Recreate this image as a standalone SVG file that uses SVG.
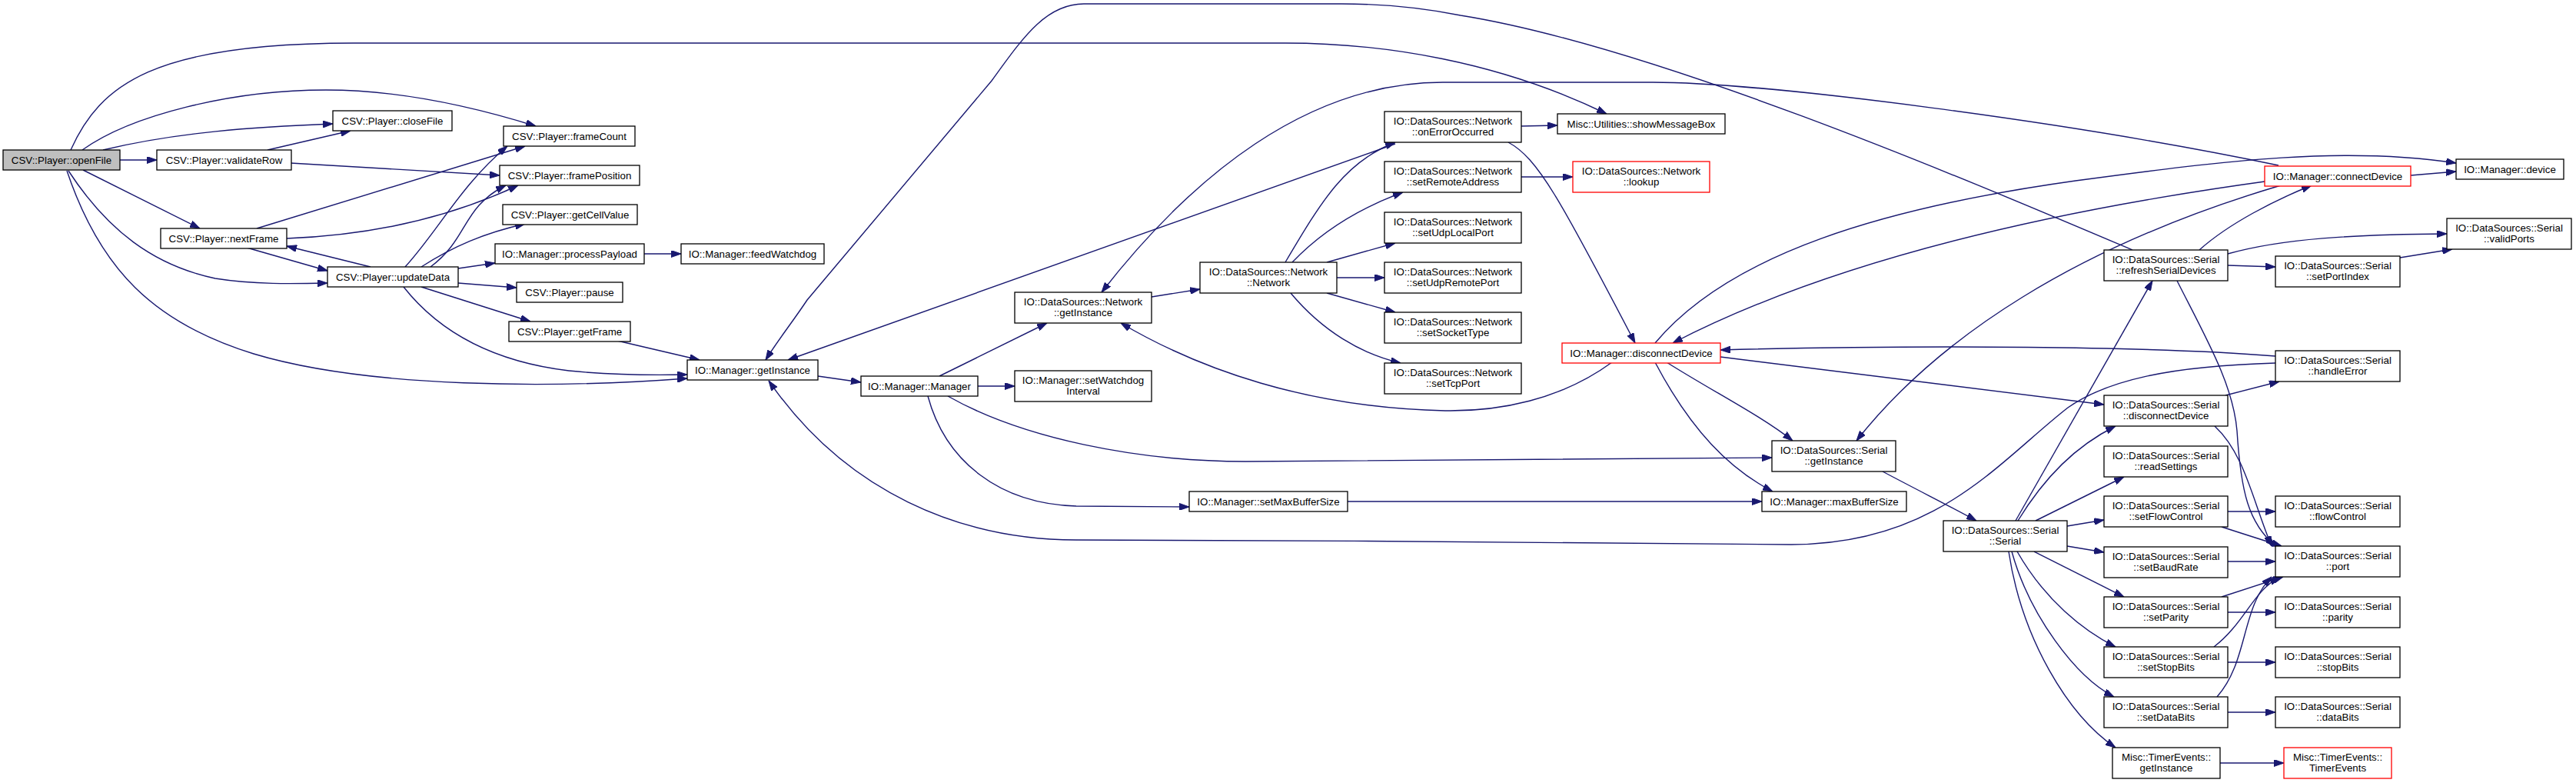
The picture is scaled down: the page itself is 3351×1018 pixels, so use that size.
<svg xmlns="http://www.w3.org/2000/svg" width="3351" height="1018" viewBox="0 0 3351 1018">
<style>
.n rect{fill:#fff;stroke:#000;stroke-width:1.3}
.n.r rect{stroke:#f00}
.n.g rect{fill:#bfbfbf}
.n text{font-family:"Liberation Sans",Arial,sans-serif;font-size:13.3px;text-anchor:middle;fill:#000}
#edges path{fill:none;stroke:#191970;stroke-width:1.4;marker-end:url(#a)}
</style>
<defs>
<marker id="a" viewBox="0 0 13 9" markerWidth="13" markerHeight="9" refX="13" refY="4.5" orient="auto" markerUnits="userSpaceOnUse">
<path d="M0,0 L13,4.5 L0,9 z" fill="#191970" stroke="#191970" stroke-width="1"/>
</marker>
</defs>
<rect width="3351" height="1018" fill="#fff"/>
<g id="edges">
<path d="M134,195 C230,172 330,165 433,161"/>
<path d="M156,208 L204,208"/>
<path d="M108,221 L260,297"/>
<path d="M89,222 C140,300 200,345 280,362 C330,370 380,369 426,368"/>
<path d="M87,222 C130,350 200,420 330,460 C480,505 720,505 894,492"/>
<path d="M107,195 C170,150 300,117 424,117 C520,117 620,140 697,164"/>
<path d="M92,195 C130,110 200,56 460,56 L1672,56 C1800,56 1950,80 2090,148"/>
<path d="M348,195 L456,170"/>
<path d="M378,212 L650,228"/>
<path d="M334,297 L683,190"/>
<path d="M373,310 C480,306 580,285 674,241"/>
<path d="M321,322 L426,352"/>
<path d="M482,347 L373,320"/>
<path d="M527,347 C570,300 600,240 660,190"/>
<path d="M560,347 C610,310 600,270 658,241"/>
<path d="M548,347 C590,320 630,303 683,291"/>
<path d="M596,349 L644,342"/>
<path d="M838,330 L886,330"/>
<path d="M596,368 L672,374"/>
<path d="M548,373 L690,418"/>
<path d="M525,373 C570,430 640,470 740,482 C800,488 850,488 894,487"/>
<path d="M803,443 L910,468"/>
<path d="M1064,489 L1120,497"/>
<path d="M1222,489 L1362,420"/>
<path d="M1272,502 L1320,502"/>
<path d="M1233,515 C1330,570 1480,600 1620,600 C1900,600 2150,597 2305,595"/>
<path d="M1207,515 C1230,600 1300,655 1400,658 L1547,659"/>
<path d="M1753,652 L2292,652"/>
<path d="M1498,386 L1561,376"/>
<path d="M1672,341 C1720,260 1750,210 1815,185"/>
<path d="M1681,341 C1720,300 1770,270 1825,250"/>
<path d="M1726,341 L1815,316"/>
<path d="M1739,361 L1801,361"/>
<path d="M1726,381 L1815,406"/>
<path d="M1679,381 C1720,430 1770,460 1822,472"/>
<path d="M1978,164 L2026,163"/>
<path d="M1962,185 C2000,205 2030,260 2127,446"/>
<path d="M1815,187 L1025,468"/>
<path d="M1978,230 L2046,230"/>
<path d="M2097,471 C2030,520 1950,535 1880,534 C1700,530 1560,480 1458,420"/>
<path d="M2168,471 C2230,510 2290,540 2332,573"/>
<path d="M2153,471 C2200,560 2250,610 2306,639"/>
<path d="M2238,464 L2737,526"/>
<path d="M2153,446 C2250,330 2450,270 2700,235 C2900,208 3050,190 3195,212"/>
<path d="M2946,236 C2700,270 2400,330 2176,446"/>
<path d="M2967,241 C2700,320 2520,440 2415,573"/>
<path d="M2964,215 C2700,160 2300,107 2150,107 L1877,107 C1700,107 1550,230 1433,380"/>
<path d="M3136,228 L3195,223"/>
<path d="M2774,325 C2550,230 2150,60 1900,20 C1850,10 1800,5 1745,5 L1410,5 C1360,5 1330,50 1290,105 L1050,390 C1030,420 1010,445 996,468"/>
<path d="M2861,325 C2900,290 2960,260 3007,241"/>
<path d="M2898,330 C2970,310 3060,305 3183,304"/>
<path d="M2898,345 L2960,347"/>
<path d="M3122,335 L3190,324"/>
<path d="M2832,365 C2870,440 2905,500 2910,560 C2915,640 2925,680 2960,710"/>
<path d="M2622,677 L2800,365"/>
<path d="M2625,677 C2660,620 2700,580 2752,554"/>
<path d="M2648,677 L2763,620"/>
<path d="M2689,684 L2737,676"/>
<path d="M2689,710 L2737,718"/>
<path d="M2646,717 L2763,776"/>
<path d="M2624,717 C2660,780 2710,820 2752,841"/>
<path d="M2617,717 C2640,800 2700,880 2750,906"/>
<path d="M2613,717 C2630,830 2690,930 2752,972"/>
<path d="M2449,613 C2500,640 2540,660 2571,677"/>
<path d="M2895,514 L2965,496"/>
<path d="M2881,554 C2920,590 2930,650 2955,710"/>
<path d="M2960,463 C2800,450 2500,448 2238,455"/>
<path d="M2960,472 C2820,476 2740,495 2690,530 C2600,600 2520,708 2330,708 C2100,706 1700,702 1400,702 C1250,702 1100,640 1000,495"/>
<path d="M2898,665 L2960,665"/>
<path d="M2890,685 L2968,710"/>
<path d="M2898,730 L2960,730"/>
<path d="M2890,776 L2970,750"/>
<path d="M2898,796 L2960,796"/>
<path d="M2880,841 C2920,810 2930,770 2965,750"/>
<path d="M2898,861 L2960,861"/>
<path d="M2884,906 C2925,860 2915,790 2955,750"/>
<path d="M2898,926 L2960,926"/>
<path d="M2888,992 L2971,992"/>
</g>
<g id="n1" class="n g"><rect x="4" y="195" width="152" height="26"/><text x="80" y="213">CSV::Player::openFile</text></g>
<g id="n2" class="n"><rect x="433" y="144" width="155" height="26"/><text x="510.5" y="162">CSV::Player::closeFile</text></g>
<g id="n3" class="n"><rect x="204" y="195" width="175" height="26"/><text x="291.5" y="213">CSV::Player::validateRow</text></g>
<g id="n4" class="n"><rect x="209" y="297" width="164" height="26"/><text x="291" y="315">CSV::Player::nextFrame</text></g>
<g id="n5" class="n"><rect x="426" y="347" width="170" height="26"/><text x="511" y="365">CSV::Player::updateData</text></g>
<g id="n6" class="n"><rect x="655" y="164" width="171" height="26"/><text x="740.5" y="182">CSV::Player::frameCount</text></g>
<g id="n7" class="n"><rect x="650" y="215" width="182" height="26"/><text x="741" y="233">CSV::Player::framePosition</text></g>
<g id="n8" class="n"><rect x="654" y="266" width="175" height="26"/><text x="741.5" y="284">CSV::Player::getCellValue</text></g>
<g id="n9" class="n"><rect x="644" y="317" width="194" height="26"/><text x="741" y="335">IO::Manager::processPayload</text></g>
<g id="n10" class="n"><rect x="886" y="317" width="186" height="26"/><text x="979" y="335">IO::Manager::feedWatchdog</text></g>
<g id="n11" class="n"><rect x="672" y="367" width="138" height="26"/><text x="741" y="385">CSV::Player::pause</text></g>
<g id="n12" class="n"><rect x="662" y="418" width="158" height="26"/><text x="741" y="436">CSV::Player::getFrame</text></g>
<g id="n13" class="n"><rect x="894" y="468" width="170" height="26"/><text x="979" y="486">IO::Manager::getInstance</text></g>
<g id="n14" class="n"><rect x="1120" y="489" width="152" height="26"/><text x="1196" y="507">IO::Manager::Manager</text></g>
<g id="n15" class="n"><rect x="1320" y="380" width="178" height="40"/><text x="1409" y="397">IO::DataSources::Network</text><text x="1409" y="411">::getInstance</text></g>
<g id="n16" class="n"><rect x="1320" y="482" width="178" height="40"/><text x="1409" y="499">IO::Manager::setWatchdog</text><text x="1409" y="513">Interval</text></g>
<g id="n17" class="n"><rect x="1561" y="341" width="178" height="40"/><text x="1650" y="358">IO::DataSources::Network</text><text x="1650" y="372">::Network</text></g>
<g id="n18" class="n"><rect x="1801" y="145" width="178" height="40"/><text x="1890" y="162">IO::DataSources::Network</text><text x="1890" y="176">::onErrorOccurred</text></g>
<g id="n19" class="n"><rect x="1801" y="210" width="178" height="40"/><text x="1890" y="227">IO::DataSources::Network</text><text x="1890" y="241">::setRemoteAddress</text></g>
<g id="n20" class="n"><rect x="1801" y="276" width="178" height="40"/><text x="1890" y="293">IO::DataSources::Network</text><text x="1890" y="307">::setUdpLocalPort</text></g>
<g id="n21" class="n"><rect x="1801" y="341" width="178" height="40"/><text x="1890" y="358">IO::DataSources::Network</text><text x="1890" y="372">::setUdpRemotePort</text></g>
<g id="n22" class="n"><rect x="1801" y="406" width="178" height="40"/><text x="1890" y="423">IO::DataSources::Network</text><text x="1890" y="437">::setSocketType</text></g>
<g id="n23" class="n"><rect x="1801" y="472" width="178" height="40"/><text x="1890" y="489">IO::DataSources::Network</text><text x="1890" y="503">::setTcpPort</text></g>
<g id="n24" class="n"><rect x="2026" y="148" width="218" height="26"/><text x="2135" y="166">Misc::Utilities::showMessageBox</text></g>
<g id="n25" class="n r"><rect x="2046" y="210" width="178" height="40"/><text x="2135" y="227">IO::DataSources::Network</text><text x="2135" y="241">::lookup</text></g>
<g id="n26" class="n r"><rect x="2032" y="446" width="206" height="26"/><text x="2135" y="464">IO::Manager::disconnectDevice</text></g>
<g id="n27" class="n"><rect x="1547" y="639" width="206" height="26"/><text x="1650" y="657">IO::Manager::setMaxBufferSize</text></g>
<g id="n28" class="n"><rect x="2292" y="639" width="188" height="26"/><text x="2386" y="657">IO::Manager::maxBufferSize</text></g>
<g id="n29" class="n"><rect x="2305" y="573" width="161" height="40"/><text x="2385.5" y="590">IO::DataSources::Serial</text><text x="2385.5" y="604">::getInstance</text></g>
<g id="n30" class="n"><rect x="2528" y="677" width="161" height="40"/><text x="2608.5" y="694">IO::DataSources::Serial</text><text x="2608.5" y="708">::Serial</text></g>
<g id="n31" class="n"><rect x="2737" y="325" width="161" height="40"/><text x="2817.5" y="342">IO::DataSources::Serial</text><text x="2817.5" y="356">::refreshSerialDevices</text></g>
<g id="n32" class="n"><rect x="2737" y="514" width="161" height="40"/><text x="2817.5" y="531">IO::DataSources::Serial</text><text x="2817.5" y="545">::disconnectDevice</text></g>
<g id="n33" class="n"><rect x="2737" y="580" width="161" height="40"/><text x="2817.5" y="597">IO::DataSources::Serial</text><text x="2817.5" y="611">::readSettings</text></g>
<g id="n34" class="n"><rect x="2737" y="645" width="161" height="40"/><text x="2817.5" y="662">IO::DataSources::Serial</text><text x="2817.5" y="676">::setFlowControl</text></g>
<g id="n35" class="n"><rect x="2737" y="711" width="161" height="40"/><text x="2817.5" y="728">IO::DataSources::Serial</text><text x="2817.5" y="742">::setBaudRate</text></g>
<g id="n36" class="n"><rect x="2737" y="776" width="161" height="40"/><text x="2817.5" y="793">IO::DataSources::Serial</text><text x="2817.5" y="807">::setParity</text></g>
<g id="n37" class="n"><rect x="2737" y="841" width="161" height="40"/><text x="2817.5" y="858">IO::DataSources::Serial</text><text x="2817.5" y="872">::setStopBits</text></g>
<g id="n38" class="n"><rect x="2737" y="906" width="161" height="40"/><text x="2817.5" y="923">IO::DataSources::Serial</text><text x="2817.5" y="937">::setDataBits</text></g>
<g id="n39" class="n"><rect x="2748" y="972" width="140" height="40"/><text x="2818" y="989">Misc::TimerEvents::</text><text x="2818" y="1003">getInstance</text></g>
<g id="n40" class="n r"><rect x="2946" y="216" width="190" height="26"/><text x="3041" y="234">IO::Manager::connectDevice</text></g>
<g id="n41" class="n"><rect x="3195" y="207" width="140" height="26"/><text x="3265" y="225">IO::Manager::device</text></g>
<g id="n42" class="n"><rect x="3183" y="284" width="162" height="40"/><text x="3264" y="301">IO::DataSources::Serial</text><text x="3264" y="315">::validPorts</text></g>
<g id="n43" class="n"><rect x="2960" y="333" width="162" height="40"/><text x="3041" y="350">IO::DataSources::Serial</text><text x="3041" y="364">::setPortIndex</text></g>
<g id="n44" class="n"><rect x="2960" y="456" width="162" height="40"/><text x="3041" y="473">IO::DataSources::Serial</text><text x="3041" y="487">::handleError</text></g>
<g id="n45" class="n"><rect x="2960" y="645" width="162" height="40"/><text x="3041" y="662">IO::DataSources::Serial</text><text x="3041" y="676">::flowControl</text></g>
<g id="n46" class="n"><rect x="2960" y="710" width="162" height="40"/><text x="3041" y="727">IO::DataSources::Serial</text><text x="3041" y="741">::port</text></g>
<g id="n47" class="n"><rect x="2960" y="776" width="162" height="40"/><text x="3041" y="793">IO::DataSources::Serial</text><text x="3041" y="807">::parity</text></g>
<g id="n48" class="n"><rect x="2960" y="841" width="162" height="40"/><text x="3041" y="858">IO::DataSources::Serial</text><text x="3041" y="872">::stopBits</text></g>
<g id="n49" class="n"><rect x="2960" y="906" width="162" height="40"/><text x="3041" y="923">IO::DataSources::Serial</text><text x="3041" y="937">::dataBits</text></g>
<g id="n50" class="n r"><rect x="2971" y="972" width="140" height="40"/><text x="3041" y="989">Misc::TimerEvents::</text><text x="3041" y="1003">TimerEvents</text></g>
</svg>
